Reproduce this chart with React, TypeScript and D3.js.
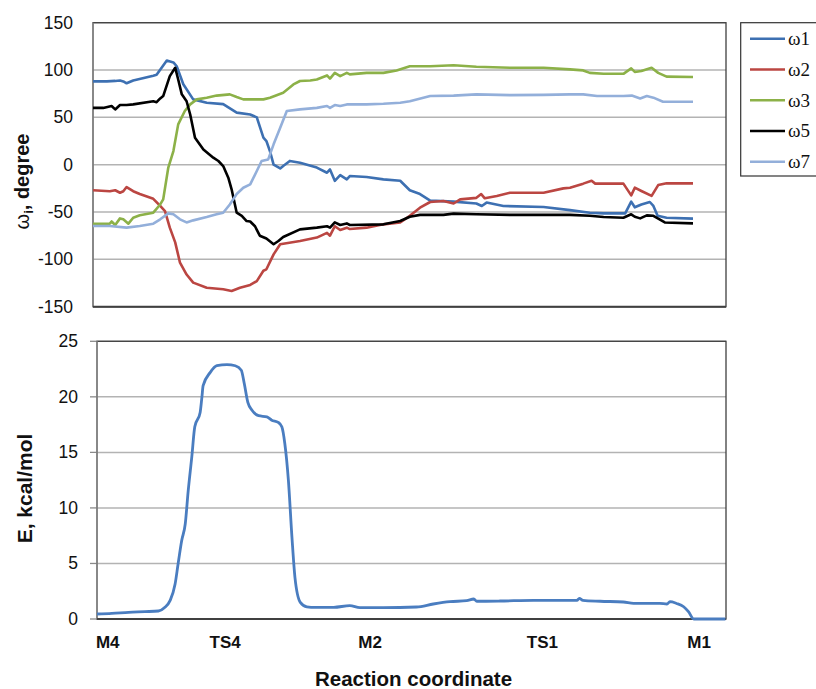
import * as d3 from 'd3';

// reaction coordinate: 0 = M4, 100 = M1
const w1: [number, number][] = [
  [0, 88], [2.3, 88], [3.7, 88.5], [4.5, 89], [5.05, 88], [5.6, 86], [6.7, 89], [10.05, 94], [10.6, 95],
  [12.3, 110], [13.4, 108], [13.95, 104], [15.05, 85], [16.7, 69], [18.95, 65.5], [21.7, 64], [23.95, 55],
  [26.2, 53], [27.3, 50], [28.4, 28.5], [28.9, 25], [29.5, 14], [30.1, 0], [31.2, -4], [31.7, -1.4],
  [32.8, 4], [34.5, 2], [37.3, -3], [39, -8.5], [39.5, -5], [40.3, -17], [41.2, -11], [42.3, -15.5],
  [42.8, -12], [45.6, -13], [48.4, -15.5], [51.2, -17], [52.8, -27], [54.5, -31], [56.2, -38], [60.1, -39],
  [63.9, -41], [64.8, -43.6], [65.6, -40], [68.4, -43.6], [75.1, -44.7], [79.5, -48], [82.8, -50.7],
  [85.1, -51.4], [88.7, -51.4], [89.7, -39], [90.3, -45], [91.4, -42], [92.8, -39.4], [93.4, -43.6],
  [94.1, -54], [95.6, -56], [100, -57],
];
const w2: [number, number][] = [
  [0, -27], [2.8, -28], [3.7, -27], [4.5, -29.6], [5.05, -28], [5.6, -23.6], [6.7, -28], [7.8, -31],
  [10.05, -36], [11.2, -43.6], [12, -49], [12.8, -66.5], [13.7, -82], [14.5, -103.5], [15.6, -116],
  [16.7, -124.6], [18.95, -130], [21.7, -131.6], [23.1, -133.4], [24.5, -130], [26.2, -127], [27.3, -123],
  [28.4, -112], [28.9, -110.5], [30.1, -94.7], [31.2, -84], [34.5, -80.6], [37.3, -77], [39, -72],
  [39.5, -75], [40.3, -65], [41.2, -69], [42.3, -66.5], [42.8, -68], [45.6, -66.5], [48.4, -63], [51.2, -61],
  [52.8, -54], [54.5, -45.4], [56.2, -39.4], [58.4, -38.4], [60.1, -41], [61.2, -36.6], [63.9, -35],
  [64.7, -31], [65.3, -35.5], [67.3, -33], [69.5, -29.6], [75.1, -29.6], [78.4, -25], [79.5, -24.3],
  [81.7, -20], [83.1, -17], [83.7, -20], [88.4, -20], [89.7, -32.4], [90.3, -24.3], [91.4, -27.8],
  [93.1, -33], [94.2, -21.5], [95.6, -19.7], [100, -19.7],
];
const w3: [number, number][] = [
  [0, -62.3], [2.8, -62.3], [3.1, -60], [3.7, -63.7], [4.5, -56.7], [5.05, -57.7], [5.9, -62.3], [6.7, -56],
  [7.8, -53.5], [10.05, -50.7], [11.2, -42], [11.7, -36.6], [12.55, -3], [13.4, 14.4], [14.2, 42.6],
  [15.3, 56.7], [16.2, 63.7], [17.3, 69], [18.95, 70.8], [20.6, 73], [22.8, 74.3], [23.95, 71.5],
  [25.05, 69], [26.2, 69], [28.4, 69], [29.5, 70.8], [31.7, 76], [33.4, 84.8], [34.5, 88.4], [36.2, 89],
  [37.3, 90], [39, 94.3], [39.5, 91], [40.3, 97], [41.2, 93.6], [42.3, 97], [42.8, 95.4], [45.6, 97],
  [48.4, 97], [50.6, 99.6], [52.8, 104], [56.2, 104], [60.1, 105], [63.9, 103.5], [69.5, 102.4],
  [75.1, 102.4], [79.5, 100.7], [81.7, 99.6], [82.8, 97], [85.1, 96], [88.4, 96], [89.7, 101.7],
  [90.3, 98], [91.4, 99], [93.1, 102.4], [94.2, 97], [95.6, 93], [100, 92.6],
];
const w5: [number, number][] = [
  [0, 60], [1.7, 60], [3.1, 62], [3.7, 58.4], [4.5, 63], [5.6, 63], [6.7, 63.7], [10.05, 67], [10.6, 66],
  [11.2, 70], [11.7, 72.5], [12.8, 93.6], [13.7, 102.4], [14.2, 90], [14.8, 74.3], [15.6, 67], [16.2, 53],
  [17, 28.5], [18.4, 16], [20.05, 7.4], [20.9, 3.9], [21.7, -1.4], [22.55, -13.7], [23.1, -26],
  [23.95, -50.7], [24.8, -54], [25.6, -59.5], [26.2, -60], [27, -65], [27.8, -75], [28.9, -78], [30.1, -84],
  [30.9, -80.6], [31.7, -76.4], [34.5, -68.3], [37.3, -66.5], [39, -65], [39.5, -66.5], [40.3, -61],
  [41.2, -63.7], [42.3, -62], [42.8, -63.7], [48.4, -63], [51.2, -59.5], [52.8, -55], [54.5, -53],
  [58.4, -53], [60.1, -51.7], [63.9, -52.4], [69.5, -53], [79.5, -53], [82.8, -54], [85.1, -55.3],
  [88.4, -56], [89.7, -52.4], [90.3, -55], [91.2, -56.7], [92.3, -53.5], [93.4, -54], [95.3, -61], [100, -62],
];
const w7: [number, number][] = [
  [0, -64.8], [2.8, -64.8], [5.6, -66.5], [7.8, -64.8], [10.05, -62.3], [11.2, -57.7], [12.55, -51.4],
  [13.4, -52.4], [14.5, -57.7], [15.6, -61], [16.7, -58.8], [18.95, -55.3], [20.6, -52.4], [21.7, -50.7],
  [22.8, -42], [23.95, -31], [25.05, -24.3], [26.2, -20.8], [27.3, -6.7], [28.1, 3.9], [29.2, 5.6],
  [30.1, 21.5], [31.2, 39], [32.3, 56.7], [34.5, 58.4], [37.3, 60], [39, 62], [39.5, 60], [40.3, 63],
  [41.2, 62], [42.3, 63.7], [45.6, 63.7], [48.4, 64.4], [51.2, 65.5], [52.8, 67], [56.2, 72.5], [60.1, 73],
  [63.9, 74.3], [69.5, 73.5], [75.1, 73.8], [79.5, 74.3], [81.7, 74.3], [84, 72.5], [88.4, 72.5],
  [89.8, 73], [91.2, 70], [92.3, 72.5], [93.4, 70.8], [95, 66.5], [100, 66.5],
];
const energy: [number, number][] = [
  [0, 0.45], [2.5, 0.5], [5.3, 0.6], [8.05, 0.66], [10.3, 0.72], [11.4, 1.05], [12.25, 1.65], [13.1, 3.15],
  [13.6, 4.95], [14.2, 7.05], [14.8, 8.55], [15.3, 11.55], [15.9, 14.6], [16.4, 17.3], [17.3, 18.6],
  [17.6, 20], [17.8, 21], [19, 22.2], [20.1, 22.8], [21.8, 22.9], [23.2, 22.8], [24.2, 22.4], [24.7, 21.2],
  [25.3, 19.5], [26, 18.8], [27.1, 18.3], [28.5, 18.2], [29.3, 17.9], [30.4, 17.7], [31, 17.3], [31.5, 15.8],
  [32.1, 12.5], [32.7, 7.35], [33.2, 3.75], [34.1, 1.5], [35.2, 1.1], [36.6, 1.05], [39.7, 1.05],
  [42.4, 1.2], [44.1, 1.02], [48, 1.02], [53.6, 1.08], [56.4, 1.35], [59.2, 1.56], [62, 1.65], [63.2, 1.8],
  [63.7, 1.6], [67.6, 1.62], [73.2, 1.68], [80.5, 1.68], [80.9, 1.86], [81.5, 1.68], [84.4, 1.6],
  [88.3, 1.53], [90, 1.4], [94.4, 1.4], [95.6, 1.35], [96.1, 1.56], [97.2, 1.4], [98.4, 1.1], [99.2, 0.66],
  [100.1, 0], [105.4, 0],
];

const seriesNames = ['ω1', 'ω2', 'ω3', 'ω5', 'ω7'];
const seriesData = [w1, w2, w3, w5, w7];
const seriesColors = ['#3D70B2', '#BB4642', '#8CB148', '#000000', '#93AFDA'];

const topTicks = [150, 100, 50, 0, -50, -100, -150];
const bottomTicks = [0, 5, 10, 15, 20, 25];
const pathLabels = ['M4', 'TS4', 'M2', 'TS1', 'M1'];
const pathLabelPos = [1.8, 21.5, 45.8, 74.7, 101];

const sans = '"Liberation Sans", Arial, sans-serif';

export default function App() {
  const W = 816;
  const H = 689;
  const top = { left: 93, right: 726, top: 22.7, bottom: 306.7 };
  const bot = { left: 97, right: 726, top: 341.3, bottom: 619 };

  const xT = d3.scaleLinear().domain([0, 105.5]).range([top.left, top.right]);
  const yT = d3.scaleLinear().domain([-150, 150]).range([top.bottom, top.top]);
  const xB = d3.scaleLinear().domain([0, 105.5]).range([bot.left, bot.right]);
  const yB = d3.scaleLinear().domain([0, 25]).range([bot.bottom, bot.top]);

  const lineT = d3.line<[number, number]>().x((d) => xT(d[0])).y((d) => yT(d[1]));
  const lineB = d3
    .line<[number, number]>()
    .x((d) => xB(d[0]))
    .y((d) => yB(d[1]))
    .curve(d3.curveMonotoneX);

  return (
    <svg
      width={W}
      height={H}
      style={{ position: 'absolute', left: 0, top: 0, background: '#fff' }}
      fontFamily={sans}
    >
      {/* top panel */}
      {topTicks.map((t) => (
        <g key={'gt' + t}>
          <line x1={top.left} x2={top.right} y1={yT(t)} y2={yT(t)} stroke="#b3b3b3" strokeWidth={1.5} />
          <text x={73} y={yT(t)} textAnchor="end" dominantBaseline="central" fontSize={17.5} fill="#111">
            {t}
          </text>
        </g>
      ))}
      <rect x={top.left} y={top.top} width={top.right - top.left} height={top.bottom - top.top} fill="none" stroke="#404040" strokeWidth={1.3} />
      <line x1={top.left} x2={top.left} y1={top.top} y2={top.bottom} stroke="#8a8a8a" strokeWidth={1.5} />
      <line x1={top.left} x2={top.right} y1={top.bottom} y2={top.bottom} stroke="#404040" strokeWidth={2} />
      {seriesData.map((s, i) => (
        <path key={seriesNames[i]} d={lineT(s) || ''} fill="none" stroke={seriesColors[i]} strokeWidth={2.6} strokeLinejoin="round" />
      ))}
      <text transform={`translate(28.5, 181.5) rotate(-90)`} textAnchor="middle" fontSize={20} fontWeight="bold" fill="#111">
        <tspan fontWeight="normal">ω</tspan>
        <tspan fontSize={13} dy={4}>i</tspan>
        <tspan dy={-4}>, degree</tspan>
      </text>

      {/* legend */}
      <rect x={740.7} y={22.7} width={80} height={153.3} fill="#fff" stroke="#333" strokeWidth={1.2} />
      {seriesNames.map((n, i) => {
        const ly = 38.7 + i * 30.75;
        return (
          <g key={'lg' + n}>
            <line x1={750} x2={785} y1={ly} y2={ly} stroke={seriesColors[i]} strokeWidth={2.6} />
            <text x={788} y={ly} dominantBaseline="central" fontSize={19} fontFamily='"Liberation Serif", "Times New Roman", serif' fill="#111">
              {n}
            </text>
          </g>
        );
      })}

      {/* bottom panel */}
      {bottomTicks.map((t) => (
        <g key={'gb' + t}>
          <line x1={bot.left} x2={bot.right} y1={yB(t)} y2={yB(t)} stroke="#b3b3b3" strokeWidth={1.5} />
          <line x1={90} x2={bot.left} y1={yB(t)} y2={yB(t)} stroke="#8a8a8a" strokeWidth={1.3} />
          <text x={78} y={yB(t)} textAnchor="end" dominantBaseline="central" fontSize={17.5} fill="#111">
            {t}
          </text>
        </g>
      ))}
      <rect x={bot.left} y={bot.top} width={bot.right - bot.left} height={bot.bottom - bot.top} fill="none" stroke="#404040" strokeWidth={1.3} />
      <line x1={bot.left} x2={bot.left} y1={bot.top} y2={bot.bottom} stroke="#8a8a8a" strokeWidth={1.5} />
      <line x1={bot.left} x2={bot.right} y1={bot.bottom} y2={bot.bottom} stroke="#404040" strokeWidth={2} />
      <path d={lineB(energy) || ''} fill="none" stroke="#4A7DC0" strokeWidth={2.8} strokeLinejoin="round" />
      {pathLabels.map((l, i) => (
        <text key={l} x={xB(pathLabelPos[i])} y={648} textAnchor="middle" fontSize={17} fontWeight="bold" fill="#111">
          {l}
        </text>
      ))}
      <text transform={`translate(32.3, 488.5) rotate(-90)`} textAnchor="middle" fontSize={21} fontWeight="bold" fill="#111">
        E, kcal/mol
      </text>
      <text x={413.5} y={686} textAnchor="middle" fontSize={20.5} fontWeight="bold" fill="#111">
        Reaction coordinate
      </text>
    </svg>
  );
}
